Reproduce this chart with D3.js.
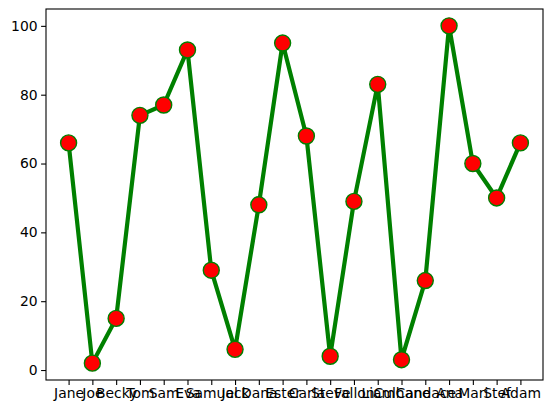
<!DOCTYPE html>
<html>
<head>
<meta charset="utf-8">
<script src="https://cdn.jsdelivr.net/npm/d3@7"></script>
<style>
  body { margin: 0; background: #fff; }
  text { font-family: "DejaVu Sans", sans-serif; }
</style>
</head>
<body>
<div id="chart"></div>
<script>
// data
const names = ["Jane", "Joe", "Becky", "Tom", "Sam", "Eva", "Samuel", "Jack", "Dana", "Ester",
    "Carla", "Steve", "Fallon", "Liam", "Culhane", "Candace", "Ana", "Mari", "Stef", "Adam"];
const scores = [66, 2, 15, 74, 77, 93, 29, 6, 48, 95, 68, 4, 49, 83, 3, 26, 100, 60, 50, 66];
const yTicks = [0, 20, 40, 60, 80, 100];

// set the dimensions and margins of the graph
const margin = {top: 9, right: 9, bottom: 33, left: 46},
    width = 552 - margin.left - margin.right,
    height = 413 - margin.top - margin.bottom;

const svg = d3.select("#chart")
    .append("svg")
    .attr("width", 552)
    .attr("height", 413)
    .append("g")
    .attr("transform", `translate(${margin.left},${margin.top})`);

const n = names.length;
const xPad = (n - 1) * 0.05;
const xScale = d3.scaleLinear().domain([-xPad, n - 1 + xPad]).range([0, width]);
const yPad = (d3.max(scores) - d3.min(scores)) * 0.05;
const yScale = d3.scaleLinear()
    .domain([d3.min(scores) - yPad, d3.max(scores) + yPad])
    .range([height, 0]);

// axes
const xAxis = d3.axisBottom(xScale)
    .tickValues(d3.range(n))
    .tickFormat(i => names[i])
    .tickSize(4.9)
    .tickPadding(3.5);
const yAxis = d3.axisLeft(yScale)
    .tickValues(yTicks)
    .tickSize(4.9)
    .tickPadding(3.5);

const gx = svg.append("g")
    .attr("transform", `translate(0,${height})`)
    .call(xAxis);
const gy = svg.append("g").call(yAxis);

[gx, gy].forEach(g => {
    g.select(".domain").remove();
    g.selectAll("line").attr("stroke", "#000").attr("stroke-width", 1.1);
    g.selectAll("text").attr("fill", "#000").style("font-size", "13.9px")
        .style("font-family", "'DejaVu Sans', sans-serif");
});

// frame
svg.append("rect")
    .attr("width", width)
    .attr("height", height)
    .attr("fill", "none")
    .attr("stroke", "#000")
    .attr("stroke-width", 1.1);

// line
const line = d3.line()
    .x((d, i) => xScale(i))
    .y(d => yScale(d));

svg.append("path")
    .datum(scores)
    .attr("fill", "none")
    .attr("stroke", "green")
    .attr("stroke-width", 4.2)
    .attr("stroke-linejoin", "round")
    .attr("d", line);

// markers
svg.selectAll(".dot")
    .data(scores)
    .enter()
    .append("circle")
    .attr("class", "dot")
    .attr("cx", (d, i) => xScale(i))
    .attr("cy", d => yScale(d))
    .attr("r", 8)
    .attr("fill", "red")
    .attr("stroke", "green")
    .attr("stroke-width", 1.4);
</script>
</body>
</html>
